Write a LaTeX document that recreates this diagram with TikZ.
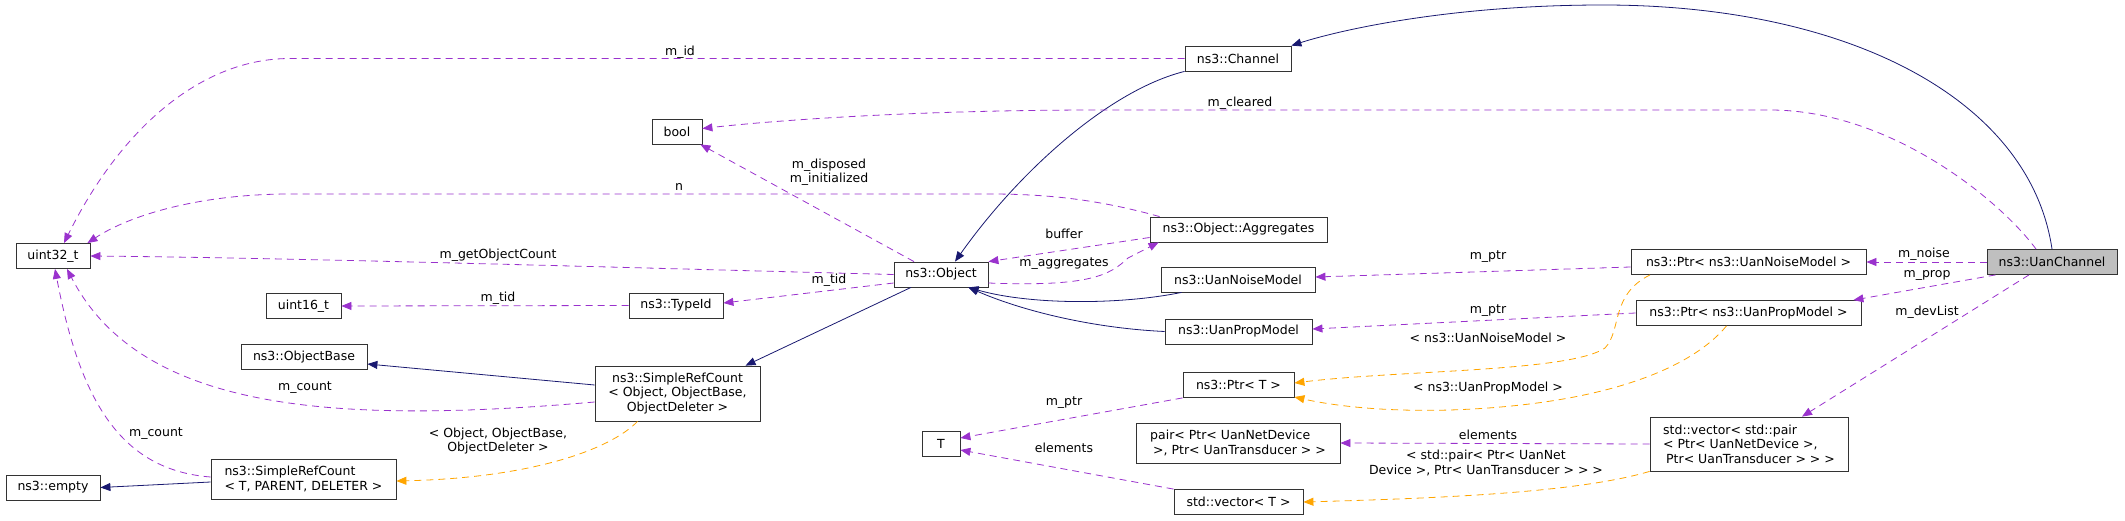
\documentclass[tikz,border=0pt]{standalone}
\usepackage{fontspec}
\setmainfont{DejaVu Sans}
\usetikzlibrary{arrows.meta}
\definecolor{inhblue}{RGB}{25,25,112}
\definecolor{usepurple}{RGB}{154,50,205}
\definecolor{tmplorange}{RGB}{255,165,0}
\definecolor{curgray}{RGB}{191,191,191}
\begin{document}
\begin{tikzpicture}[x=1pt,y=-1pt,
        font=\fontsize{12.5}{14.5}\selectfont,
        box/.style={draw=black!80,line width=0.8pt,inner sep=2pt,minimum height=25pt},
        inherit/.style={draw=inhblue,line width=0.8pt,-{Triangle[length=10pt,width=8pt]}},
        member/.style={draw=usepurple,line width=0.8pt,dash pattern=on 7pt off 5pt,-{Triangle[length=10pt,width=8pt]}},
        tmplinst/.style={draw=tmplorange,line width=0.8pt,dash pattern=on 7pt off 5pt,-{Triangle[length=10pt,width=8pt]}},
        lbl/.style={inner sep=0pt}]
            \useasboundingbox (0,0) rectangle (2125,521);

            \node[box,minimum width=74pt] (uint32) at (53,256) {uint32\_t};
            \node[box,minimum width=50pt] (bool) at (677,131.5) {bool};
            \node[box,minimum width=75pt] (uint16) at (303.5,306) {uint16\_t};
            \node[box,minimum width=126pt] (objbase) at (304,357) {ns3::ObjectBase};
            \node[box,minimum width=94pt] (empty) at (53,487.5) {ns3::empty};
            \node[box,minimum width=185pt,minimum height=40pt,align=left] (srcT) at (303.5,479) {ns3::SimpleRefCount\\< T, PARENT, DELETER >};
            \node[box,minimum width=94pt] (typeid) at (676,305.5) {ns3::TypeId};
            \node[box,minimum width=165pt,minimum height=55pt,align=center] (srcObj) at (677.5,393.5) {ns3::SimpleRefCount\\< Object, ObjectBase,\\ObjectDeleter >};
            \node[box,minimum width=106pt] (channel) at (1238,58.5) {ns3::Channel};
            \node[box,minimum width=177pt] (aggr) at (1238.5,229.5) {ns3::Object::Aggregates};
            \node[box,minimum width=94pt] (object) at (941,274.5) {ns3::Object};
            \node[box,minimum width=154pt] (noise) at (1238,279.5) {ns3::UanNoiseModel};
            \node[box,minimum width=147pt] (prop) at (1238.5,331.5) {ns3::UanPropModel};
            \node[box,minimum width=111pt] (ptrT) at (1238.5,385) {ns3::Ptr< T >};
            \node[box,minimum width=38pt] (T) at (941,444) {T};
            \node[box,minimum width=204pt,minimum height=40pt,align=left] (pair) at (1238,443) {pair< Ptr< UanNetDevice\\\hspace{3pt}>, Ptr< UanTransducer > >};
            \node[box,minimum width=129pt] (vecT) at (1238.5,502) {std::vector< T >};
            \node[box,minimum width=235pt] (ptrNoise) at (1748.5,262) {ns3::Ptr< ns3::UanNoiseModel >};
            \node[box,minimum width=225pt] (ptrProp) at (1748.5,313) {ns3::Ptr< ns3::UanPropModel >};
            \node[box,minimum width=198pt,minimum height=54pt,align=left] (vecPair) at (1749,444) {std::vector< std::pair\\< Ptr< UanNetDevice >,\\\hspace{3pt}Ptr< UanTransducer > > >};
            \node[box,minimum width=130pt,fill=curgray] (uan) at (2052,262) {ns3::UanChannel};

            \draw[inherit] (uan.north) .. controls (2030,100) and (1850,5) .. (1603,5) .. controls (1450,5) and (1340,30) .. (channel.north east);
            \draw[inherit] (channel.south west) .. controls (1110,90) and (1020,170) .. ([xshift=14pt]object.north);
            \draw[inherit] ([xshift=21pt]noise.south west) .. controls (1120,305) and (1030,305) .. ([xshift=-20pt]object.south east);
            \draw[inherit] (prop.west) .. controls (1090,328) and (1020,310) .. ([xshift=-20pt]object.south east);
            \draw[inherit] ([xshift=-30pt]object.south) -- ([xshift=68pt]srcObj.north);
            \draw[inherit] ([yshift=8.5pt]srcObj.west) -- ([yshift=-7pt]objbase.east);
            \draw[inherit] ([yshift=-3pt]srcT.west) -- (empty.east);

            \draw[member] (channel.west) -- (290,58.5) .. controls (200,58.5) and (120,130) .. ([xshift=11pt]uint32.north);
            \draw[member] ([xshift=-16pt]uan.north) .. controls (2000,200) and (1890,110) .. (1770,110) -- (1100,110) .. controls (900,110) and (760,122) .. ([yshift=3pt]bool.east);
            \draw[member] ([xshift=-27pt]object.north) -- ([xshift=-2pt]bool.south east);
            \draw[member] ([xshift=10pt]aggr.north west) .. controls (1100,200) and (1050,194) .. (990,194) -- (290,194) .. controls (200,194) and (130,215) .. ([xshift=-3pt]uint32.north east);
            \draw[member] (object.west) .. controls (600,267) and (300,258) .. (uint32.east);
            \draw[member] ([yshift=-8pt]aggr.west) -- (object.north east);
            \draw[member] ([yshift=-8.5pt]object.east) .. controls (1090,287) and (1110,275) .. (1128,258) -- ([xshift=9pt]aggr.south west);
            \draw[member] (typeid.west) -- (uint16.east);
            \draw[member] ([yshift=-8.5pt]object.west) -- ([yshift=2.5pt]typeid.east);
            \draw[member] ([yshift=-8.5pt]srcObj.west) .. controls (330,425) and (140,410) .. ([xshift=14pt]uint32.south);
            \draw[member] ([yshift=2pt]srcT.west) .. controls (120,470) and (80,400) .. ([xshift=2pt]uint32.south);
            \draw[member] (ptrT.south west) -- ([yshift=6pt]T.east);
            \draw[member] (vecT.north west) -- ([yshift=-6pt]T.east);
            \draw[member] ([yshift=-5pt]ptrNoise.west) -- ([yshift=2.5pt]noise.east);
            \draw[member] (ptrProp.west) -- ([yshift=2.5pt]prop.east);
            \draw[member] (uan.west) -- (ptrNoise.east);
            \draw[member] ([xshift=9pt]uan.south west) -- ([xshift=-8pt]ptrProp.north east);
            \draw[member] ([xshift=-23pt]uan.south) -- ([xshift=53pt]vecPair.north);
            \draw[member] (vecPair.west) -- (pair.east);

            \draw[tmplinst] ([xshift=-98.5pt]ptrNoise.south) .. controls (1610,295) and (1622,330) .. (1605,348) .. controls (1570,372) and (1400,370) .. ([yshift=2pt]ptrT.east);
            \draw[tmplinst] ([xshift=-22pt]ptrProp.south) .. controls (1690,370) and (1600,405) .. (1450,410) .. controls (1380,412) and (1330,405) .. ([yshift=-12pt]ptrT.east);
            \draw[tmplinst] (vecPair.south west) .. controls (1580,492) and (1450,498) .. (vecT.east);
            \draw[tmplinst] ([xshift=-40pt]srcObj.south) .. controls (610,450) and (530,478) .. ([yshift=-2pt]srcT.east);

            \node[lbl] (lid) at (680,52) {m\_id};
            \node[lbl] (lcleared) at (1240,103) {m\_cleared};
            \node[lbl,align=center] (ldisposed) at (829,172) {m\_disposed\\m\_initialized};
            \node[lbl] (ln) at (679,187) {n};
            \node[lbl] (lgetcount) at (498,255) {m\_getObjectCount};
            \node[lbl] (lbuffer) at (1064,234) {buffer};
            \node[lbl] (laggr) at (1064,264) {m\_aggregates};
            \node[lbl] (ltid) at (498,298) {m\_tid};
            \node[lbl] (ltidobj) at (829,280) {m\_tid};
            \node[lbl] (lcount) at (305,388) {m\_count};
            \node[lbl] (lcountT) at (156,434) {m\_count};
            \node[lbl,align=center] (lsrcargs) at (498,441) {< Object, ObjectBase,\\ObjectDeleter >};
            \node[lbl] (lptrT) at (1064,403) {m\_ptr};
            \node[lbl] (lelemT) at (1064,448) {elements};
            \node[lbl] (lptrnoise) at (1488,257) {m\_ptr};
            \node[lbl] (lptrprop) at (1488,311) {m\_ptr};
            \node[lbl] (lnoisearg) at (1488,338) {< ns3::UanNoiseModel >};
            \node[lbl] (lproparg) at (1488,388) {< ns3::UanPropModel >};
            \node[lbl] (lelempair) at (1488,435) {elements};
            \node[lbl,align=center] (lpairarg) at (1486,463) {< std::pair< Ptr< UanNet\\Device >, Ptr< UanTransducer > > >};
            \node[lbl] (lnoise) at (1924,254) {m\_noise};
            \node[lbl] (lprop) at (1927,275) {m\_prop};
            \node[lbl] (ldevlist) at (1927,312) {m\_devList};
        \end{tikzpicture}
\end{document}
